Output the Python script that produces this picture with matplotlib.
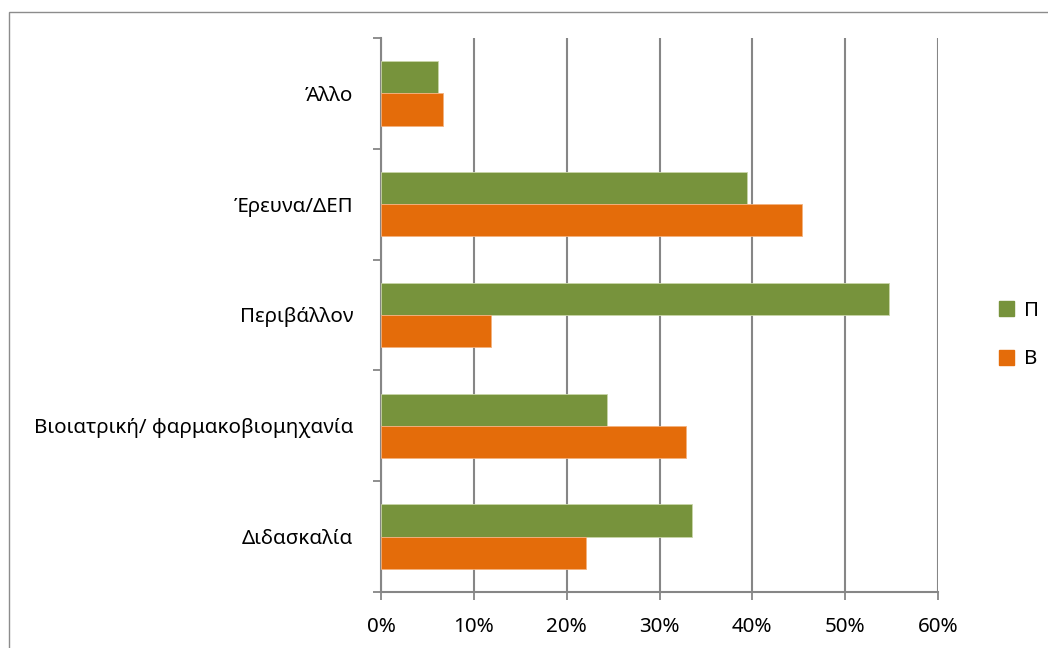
import matplotlib
matplotlib.use('Agg')
import numpy as np
import matplotlib.pyplot as plt
from matplotlib.patches import Rectangle, Patch
from matplotlib.ticker import FixedLocator

plt.rcParams['font.family'] = ['Noto Sans', 'DejaVu Sans']

categories = ['Διδασκαλία', 'Βιοιατρική/ φαρμακοβιομηχανία', 'Περιβάλλον', 'Έρευνα/ΔΕΠ', 'Άλλο']
p_vals = [33.5, 24.3, 54.7, 39.4, 6.1]
b_vals = [22.1, 32.9, 11.9, 45.3, 6.7]
xticks = [0, 10, 20, 30, 40, 50, 60]

green = '#77933C'
orange = '#E46C0A'
grid_c = '#868686'
fs = 14.8

fig = plt.figure(figsize=(10.48, 6.48), dpi=100)
ax = fig.add_axes([381/1048, 1 - 592/648, (938-381)/1048, (592-38)/648])

y = np.arange(len(categories))
h = 0.29
ax.barh(y + h/2, p_vals, height=h, color=green, edgecolor='#c9d6a8', linewidth=0.6, zorder=3)
ax.barh(y - h/2, b_vals, height=h, color=orange, edgecolor='#f3b27f', linewidth=0.6, zorder=3)

ax.set_xlim(0, 60)
ax.set_ylim(-0.5, len(categories) - 0.5)
ax.set_xticks(xticks)
ax.set_xticklabels([f'{t}%' for t in xticks], fontsize=fs)
ax.set_yticks(y)
ax.set_yticklabels(categories, fontsize=fs)
ax.yaxis.set_minor_locator(FixedLocator(np.arange(-0.5, len(categories), 1)))
ax.tick_params(axis='y', which='major', length=0, pad=20)
ax.tick_params(axis='y', which='minor', length=6, color=grid_c, width=1.3)
ax.tick_params(axis='x', length=6, color=grid_c, width=1.3, pad=12)

ax.grid(axis='x', color=grid_c, linewidth=1.5, zorder=0)
for s in ['top', 'right']:
    ax.spines[s].set_visible(False)
for s in ['left', 'bottom']:
    ax.spines[s].set_color(grid_c)
    ax.spines[s].set_linewidth(1.5)

handles = [Patch(color=green, label='Π'), Patch(color=orange, label='B')]
fig.legend(handles=handles, loc='center left', bbox_to_anchor=(999/1048, 1 - 335/648),
           frameon=False, fontsize=fs, handlelength=0.75, handleheight=0.75,
           labelspacing=1.4, handletextpad=0.45, borderpad=0, borderaxespad=0)

fig.patches.append(Rectangle((9/1048, -0.1), 1.2, 1 - 12/648 + 0.1, transform=fig.transFigure,
                             fill=False, edgecolor='#8c8c8c', linewidth=1.0))

fig.savefig('out.png', dpi=100, facecolor='white')
